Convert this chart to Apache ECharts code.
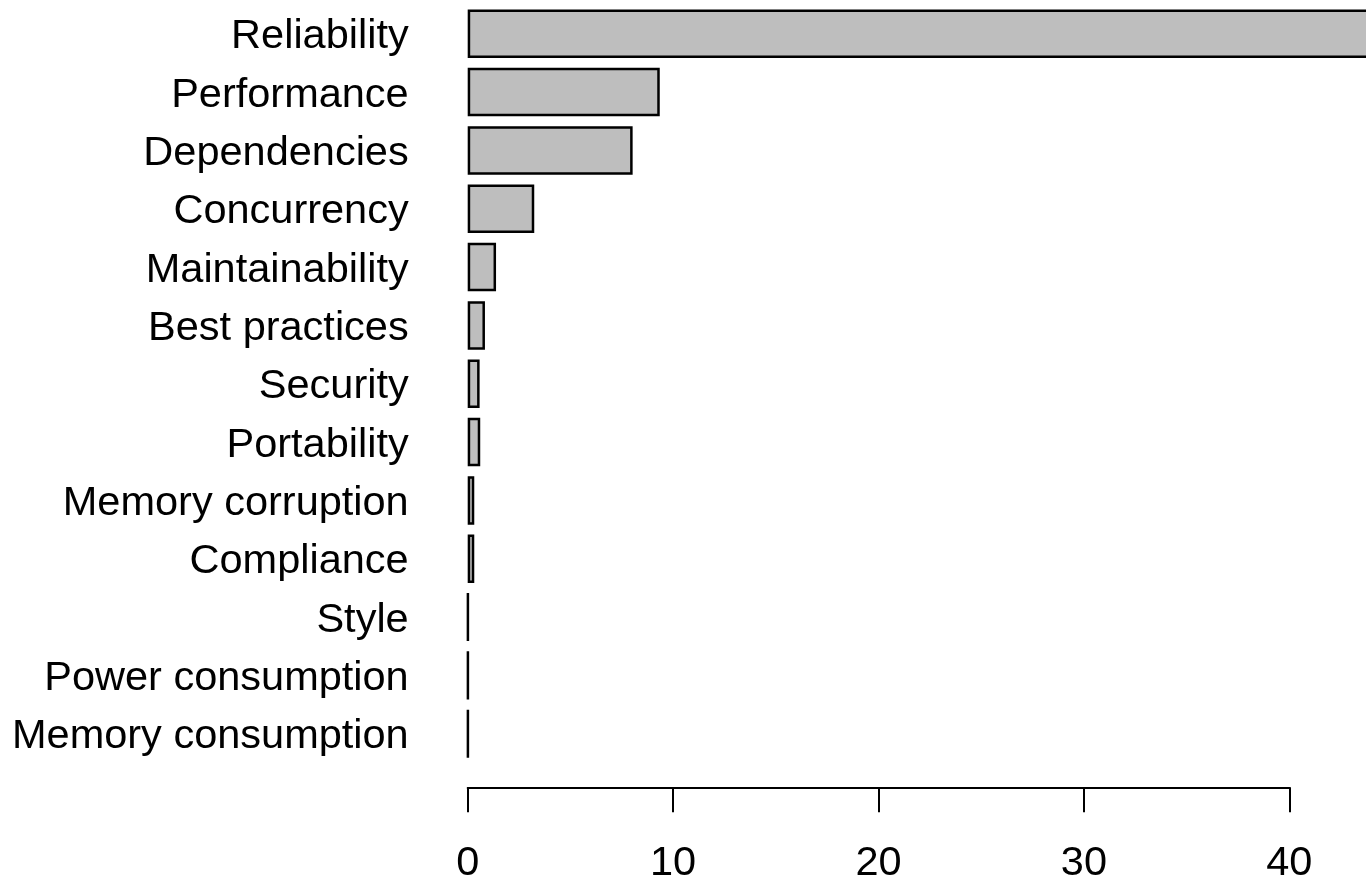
<!DOCTYPE html>
<html>
<head>
<meta charset="utf-8">
<script src="https://cdn.jsdelivr.net/npm/echarts@6/dist/echarts.min.js"></script>
<style>
html,body{margin:0;padding:0;background:#fff;}
#chart{width:1366px;height:880px;}
</style>
</head>
<body>
<div id="chart"></div>
<script>
// Data (top row first)
var categories = ['Reliability','Performance','Dependencies','Concurrency','Maintainability','Best practices','Security','Portability','Memory corruption','Compliance','Style','Power consumption','Memory consumption'];
var values = [75.3, 9.35, 8.03, 3.24, 1.38, 0.84, 0.58, 0.61, 0.32, 0.32, 0.02, 0.02, 0.02];
var tickValues = [0, 10, 20, 30, 40];

var FONT = '"Liberation Sans", Arial, sans-serif';
var X0 = 467.7, PX_PER_UNIT = 20.54, OVER = 20;
var chart = echarts.init(document.getElementById('chart'), null, {renderer: 'canvas'});
var option = {
  backgroundColor: '#ffffff',
  animation: false,
  grid: [
    {left: X0, width: 1366 + OVER - X0, top: 4.6, height: 758.3, containLabel: false, outerBoundsMode: 'none'},
    {left: X0, width: (tickValues[tickValues.length-1]-tickValues[0]) * PX_PER_UNIT, top: 700, height: 87.3, containLabel: false, outerBoundsMode: 'none'}
  ],
  xAxis: [
    {gridIndex: 0, type: 'value', min: 0, max: (1366 + OVER - X0) / PX_PER_UNIT, show: false},
    {gridIndex: 1, type: 'value', min: tickValues[0], max: tickValues[tickValues.length-1], interval: 10,
     position: 'bottom',
     axisLine: {show: true, lineStyle: {color: '#000', width: 2}},
     axisTick: {show: true, length: 25, lineStyle: {color: '#000', width: 2}},
     axisLabel: {show: true, margin: 55, color: '#000', fontSize: 41.5, fontFamily: FONT},
     splitLine: {show: false}}
  ],
  yAxis: [
    {gridIndex: 0, type: 'category', data: categories, inverse: true,
     axisLine: {show: false}, axisTick: {show: false},
     axisLabel: {margin: 59, color: '#000', fontSize: 41.5, fontFamily: FONT, verticalAlign: 'top', lineHeight: 6}},
    {gridIndex: 1, type: 'value', show: false, min: 0, max: 1}
  ],
  series: [
    {type: 'bar', xAxisIndex: 0, yAxisIndex: 0, data: values, barWidth: 48.5, clip: true,
     itemStyle: {color: '#bebebe', borderColor: '#000', borderWidth: 2.5}}
  ]
};
chart.setOption(option);
</script>
</body>
</html>
